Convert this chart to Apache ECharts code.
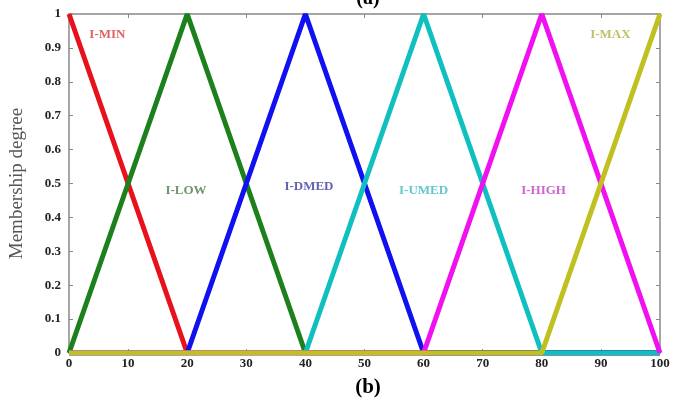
<!DOCTYPE html>
<html><head><meta charset="utf-8">
<script src="https://cdn.jsdelivr.net/npm/echarts@6/dist/echarts.min.js"></script>
<style>html,body{margin:0;padding:0;background:#fff}#c{width:678px;height:403px}</style>
</head><body><div id="c"></div>
<script>
var xPoints = [0, 20, 40, 60, 80, 100];
var seriesNames = ['I-MIN', 'I-LOW', 'I-DMED', 'I-UMED', 'I-HIGH', 'I-MAX'];
var iMin  = [1, 0, 0, 0, 0, 0];
var iLow  = [0, 1, 0, 0, 0, 0];
var iDmed = [0, 0, 1, 0, 0, 0];
var iUmed = [0, 0, 0, 1, 0, 0];
var iHigh = [0, 0, 0, 0, 1, 0];
var iMax  = [0, 0, 0, 0, 0, 1];
var seriesValues = [iMin, iLow, iDmed, iUmed, iHigh, iMax];
var colors = ['#e8121c', '#1c801c', '#1010f0', '#10c0c0', '#f010f0', '#c0c020'];
var labelColors = ['#d83a3a', '#4a7a4a', '#3a3aa0', '#40b8c0', '#c040c0', '#b0b040'];
var labelX = [6.5, 19.8, 40.6, 60, 80.3, 91.6];
var labelY = [0.94, 0.48, 0.49, 0.48, 0.48, 0.94];
var xTicks = [0, 10, 20, 30, 40, 50, 60, 70, 80, 90, 100];
var yTicks = [0, 0.1, 0.2, 0.3, 0.4, 0.5, 0.6, 0.7, 0.8, 0.9, 1];

var chart = echarts.init(document.getElementById('c'));
var series = seriesValues.map(function (vals, i) {
  return {
    type: 'line', name: seriesNames[i],
    data: xPoints.map(function (x, k) { return [x, vals[k]]; }),
    symbol: 'none', lineStyle: { color: colors[i], width: 5 },
    itemStyle: { color: colors[i] }, animation: false, z: 2 + i
  };
});
series.push({
  type: 'scatter', symbolSize: 0, animation: false, z: 20,
  data: seriesNames.map(function (n, i) {
    return { value: [labelX[i], labelY[i]],
      label: { show: true, position: 'inside', formatter: n, color: labelColors[i],
        fontFamily: 'Liberation Serif', fontWeight: 'bold', fontSize: 13 } };
  })
});
var frameAxis = {
  axisLine: { show: true, onZero: false, lineStyle: { color: '#888', width: 1.5 } },
  axisTick: { show: true, inside: true, length: 4, lineStyle: { color: '#888' } },
  axisLabel: { show: false }, splitLine: { show: false }
};
chart.setOption({
  backgroundColor: '#fff',
  animation: false,
  grid: { left: 67, right: 18, top: 14, bottom: 50 },
  title: [
    { text: '(a)', left: 363, top: -16, textAlign: 'center',
      textStyle: { fontFamily: 'Liberation Serif', fontWeight: 'bold', fontSize: 20, color: '#000' } },
    { text: '(b)', left: 363, top: 372, textAlign: 'center',
      textStyle: { fontFamily: 'Liberation Serif', fontWeight: 'bold', fontSize: 21, color: '#000' } }
  ],
  xAxis: [{
    type: 'value', min: 0, max: 100, interval: 10,
    axisLine: { show: true, onZero: false, lineStyle: { color: '#888', width: 1.5 } },
    axisTick: { show: true, inside: true, length: 4, lineStyle: { color: '#888' } },
    axisLabel: { color: '#222', fontFamily: 'Liberation Serif', fontWeight: 'bold', fontSize: 13, margin: 4,
      formatter: function (v) { return xTicks.indexOf(v) >= 0 ? String(v) : ''; } },
    splitLine: { show: false }
  }, Object.assign({ type: 'value', min: 0, max: 100, interval: 10, position: 'top' }, frameAxis)],
  yAxis: [{
    type: 'value', min: 0, max: 1, interval: 0.1,
    name: 'Membership degree', nameLocation: 'middle', nameGap: 42,
    nameTextStyle: { fontFamily: 'Liberation Serif', fontSize: 19, color: '#555' },
    axisLine: { show: true, onZero: false, lineStyle: { color: '#888', width: 1.5 } },
    axisTick: { show: true, inside: true, length: 4, lineStyle: { color: '#888' } },
    axisLabel: { color: '#222', fontFamily: 'Liberation Serif', fontWeight: 'bold', fontSize: 13, margin: 8,
      formatter: function (v) { var r = Math.round(v * 10) / 10; return yTicks.indexOf(r) >= 0 ? String(r) : ''; } },
    splitLine: { show: false }
  }, Object.assign({ type: 'value', min: 0, max: 1, interval: 0.1, position: 'right' }, frameAxis)],
  series: series
});
</script></body></html>
